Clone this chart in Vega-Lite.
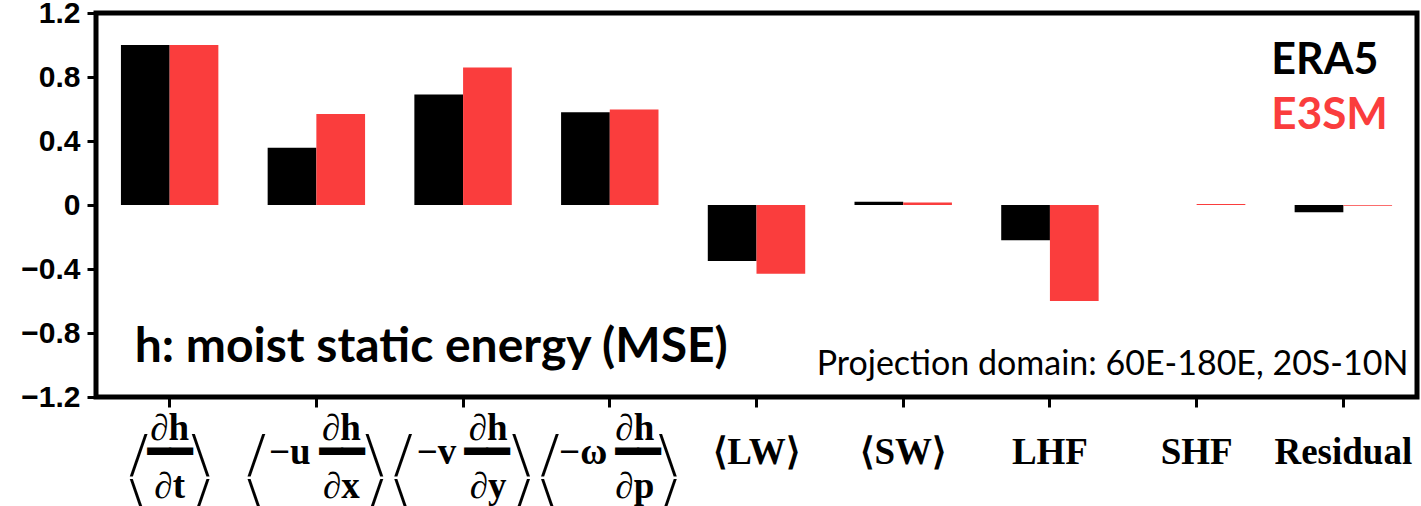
{
  "$schema": "https://vega.github.io/schema/vega-lite/v6.json",
  "autosize": "none",
  "padding": {"top": 13, "left": 96, "right": 4, "bottom": 109},
  "width": 1321,
  "height": 384,
  "background": "white",
  "config": {"view": {"stroke": "black", "strokeWidth": 5}},
  "datasets": {
    "bars": [
      {"term": "dhdt", "model": "ERA5", "value": 1.0},
      {"term": "dhdt", "model": "E3SM", "value": 1.0},
      {"term": "udhdx", "model": "ERA5", "value": 0.358},
      {"term": "udhdx", "model": "E3SM", "value": 0.568},
      {"term": "vdhdy", "model": "ERA5", "value": 0.69},
      {"term": "vdhdy", "model": "E3SM", "value": 0.86},
      {"term": "wdhdp", "model": "ERA5", "value": 0.58},
      {"term": "wdhdp", "model": "E3SM", "value": 0.597},
      {"term": "LW", "model": "ERA5", "value": -0.35},
      {"term": "LW", "model": "E3SM", "value": -0.43},
      {"term": "SW", "model": "ERA5", "value": 0.02},
      {"term": "SW", "model": "E3SM", "value": 0.015},
      {"term": "LHF", "model": "ERA5", "value": -0.22},
      {"term": "LHF", "model": "E3SM", "value": -0.6},
      {"term": "SHF", "model": "ERA5", "value": 0.0},
      {"term": "SHF", "model": "E3SM", "value": 0.006},
      {"term": "Residual", "model": "ERA5", "value": -0.045},
      {"term": "Residual", "model": "E3SM", "value": -0.005}
    ],
    "fracs": [
      {"term": "dhdt", "num": "∂h", "den": "∂t"},
      {"term": "udhdx", "num": "∂h", "den": "∂x"},
      {"term": "vdhdy", "num": "∂h", "den": "∂y"},
      {"term": "wdhdp", "num": "∂h", "den": "∂p"}
    ],
    "notes": [
      {"term": "dhdt", "label": "h: moist static energy (MSE)"},
      {"term": "Residual", "label": "Projection domain: 60E-180E, 20S-10N"},
      {"term": "Residual", "label": "ERA5"},
      {"term": "Residual", "label": "E3SM"}
    ]
  },
  "encoding": {
    "x": {
      "field": "term",
      "type": "nominal",
      "scale": {"domain": ["dhdt", "udhdx", "vdhdy", "wdhdp", "LW", "SW", "LHF", "SHF", "Residual"], "paddingInner": 0.336, "paddingOuter": 0.17}
    }
  },
  "layer": [
    {
      "data": {"name": "bars"},
      "mark": {"type": "bar"},
      "encoding": {
        "x": {
          "field": "term",
          "type": "nominal",
          "axis": {
            "title": null,
            "domain": false,
            "labelAngle": 0,
            "ticks": true,
            "tickSize": 10,
            "tickWidth": 3,
            "tickColor": "black",
            "labelPadding": 45,
            "labelFont": "Liberation Serif",
            "labelFontWeight": "bold",
            "labelFontSize": 37,
            "labelColor": "black",
            "labelBaseline": "middle",
            "labelExpr": "datum.value == 'dhdt' ? '━━' : datum.value == 'udhdx' ? '−u ━━' : datum.value == 'vdhdy' ? '−v ━━' : datum.value == 'wdhdp' ? '−ω ━━' : datum.value == 'LW' ? '⟨LW⟩' : datum.value == 'SW' ? '⟨SW⟩' : datum.value"
          }
        },
        "xOffset": {"field": "model", "type": "nominal", "sort": ["ERA5", "E3SM"], "scale": {"paddingInner": 0, "paddingOuter": 0}},
        "y": {
          "field": "value",
          "type": "quantitative",
          "scale": {"domain": [-1.2, 1.2], "nice": false, "zero": false},
          "axis": {
            "title": null,
            "domain": false,
            "grid": false,
            "values": [-1.2, -0.8, -0.4, 0, 0.4, 0.8, 1.2],
            "tickSize": 9,
            "tickWidth": 3,
            "tickColor": "black",
            "labelPadding": 7,
            "labelFont": "Liberation Sans",
            "labelFontWeight": "bold",
            "labelFontSize": 30,
            "labelColor": "black",
            "labelExpr": "datum.value == 0 ? '0' : replace(format(datum.value, '.1f'), '-', '−')"
          }
        },
        "color": {"field": "model", "type": "nominal", "scale": {"domain": ["ERA5", "E3SM"], "range": ["#000000", "#fa3d3d"]}, "legend": null}
      }
    },
    {
      "mark": {"type": "rule", "color": "#555555", "strokeWidth": 2},
      "encoding": {"x": null, "y": {"datum": 0}}
    },
    {
      "data": {"name": "fracs"},
      "transform": [{"filter": "datum.term == 'dhdt'"}],
      "layer": [
        {"mark": {"type": "text", "font": "Liberation Serif", "fontWeight": "bold", "fontSize": 37, "baseline": "alphabetic", "color": "black"},
         "encoding": {"text": {"field": "num"}, "y": {"datum": -1.47}}},
        {"mark": {"type": "text", "font": "Liberation Serif", "fontWeight": "bold", "fontSize": 37, "baseline": "alphabetic", "color": "black"},
         "encoding": {"text": {"field": "den"}, "y": {"datum": -1.83}}},
        {"mark": {"type": "text", "text": ["/", "\\"], "font": "Liberation Serif", "fontSize": 64, "lineHeight": 45, "baseline": "middle", "dx": -31, "color": "black"},
         "encoding": {"y": {"datum": -1.575}}},
        {"mark": {"type": "text", "text": ["\\", "/"], "font": "Liberation Serif", "fontSize": 64, "lineHeight": 45, "baseline": "middle", "dx": 31, "color": "black"},
         "encoding": {"y": {"datum": -1.575}}}
      ]
    },
    {
      "data": {"name": "fracs"},
      "transform": [{"filter": "datum.term != 'dhdt'"}],
      "layer": [
        {"mark": {"type": "text", "font": "Liberation Serif", "fontWeight": "bold", "fontSize": 37, "baseline": "alphabetic", "dx": 25, "color": "black"},
         "encoding": {"text": {"field": "num"}, "y": {"datum": -1.47}}},
        {"mark": {"type": "text", "font": "Liberation Serif", "fontWeight": "bold", "fontSize": 37, "baseline": "alphabetic", "dx": 25, "color": "black"},
         "encoding": {"text": {"field": "den"}, "y": {"datum": -1.83}}},
        {"mark": {"type": "text", "text": ["/", "\\"], "font": "Liberation Serif", "fontSize": 64, "lineHeight": 45, "baseline": "middle", "dx": -60, "color": "black"},
         "encoding": {"y": {"datum": -1.575}}},
        {"mark": {"type": "text", "text": ["\\", "/"], "font": "Liberation Serif", "fontSize": 64, "lineHeight": 45, "baseline": "middle", "dx": 58, "color": "black"},
         "encoding": {"y": {"datum": -1.575}}}
      ]
    },
    {
      "data": {"name": "notes"},
      "transform": [{"filter": "datum.label == 'h: moist static energy (MSE)'"}],
      "mark": {"type": "text", "font": "Lato", "fontWeight": "bold", "fontSize": 48, "align": "left", "baseline": "alphabetic", "dx": -35, "color": "black"},
      "encoding": {"text": {"field": "label"}, "y": {"datum": -0.98}}
    },
    {
      "data": {"name": "notes"},
      "transform": [{"filter": "indexof(datum.label, 'Projection') == 0"}],
      "mark": {"type": "text", "font": "Lato", "fontSize": 34, "align": "right", "baseline": "alphabetic", "dx": 65, "color": "black"},
      "encoding": {"text": {"field": "label"}, "y": {"datum": -1.06}}
    },
    {
      "data": {"name": "notes"},
      "transform": [{"filter": "datum.label == 'ERA5'"}],
      "mark": {"type": "text", "font": "Lato", "fontWeight": "bold", "fontSize": 43, "align": "left", "baseline": "alphabetic", "dx": -72, "color": "black"},
      "encoding": {"text": {"field": "label"}, "y": {"datum": 0.82}}
    },
    {
      "data": {"name": "notes"},
      "transform": [{"filter": "datum.label == 'E3SM'"}],
      "mark": {"type": "text", "font": "Lato", "fontWeight": "bold", "fontSize": 44, "align": "left", "baseline": "alphabetic", "dx": -72, "color": "#fa3d3d"},
      "encoding": {"text": {"field": "label"}, "y": {"datum": 0.475}}
    }
  ]
}
